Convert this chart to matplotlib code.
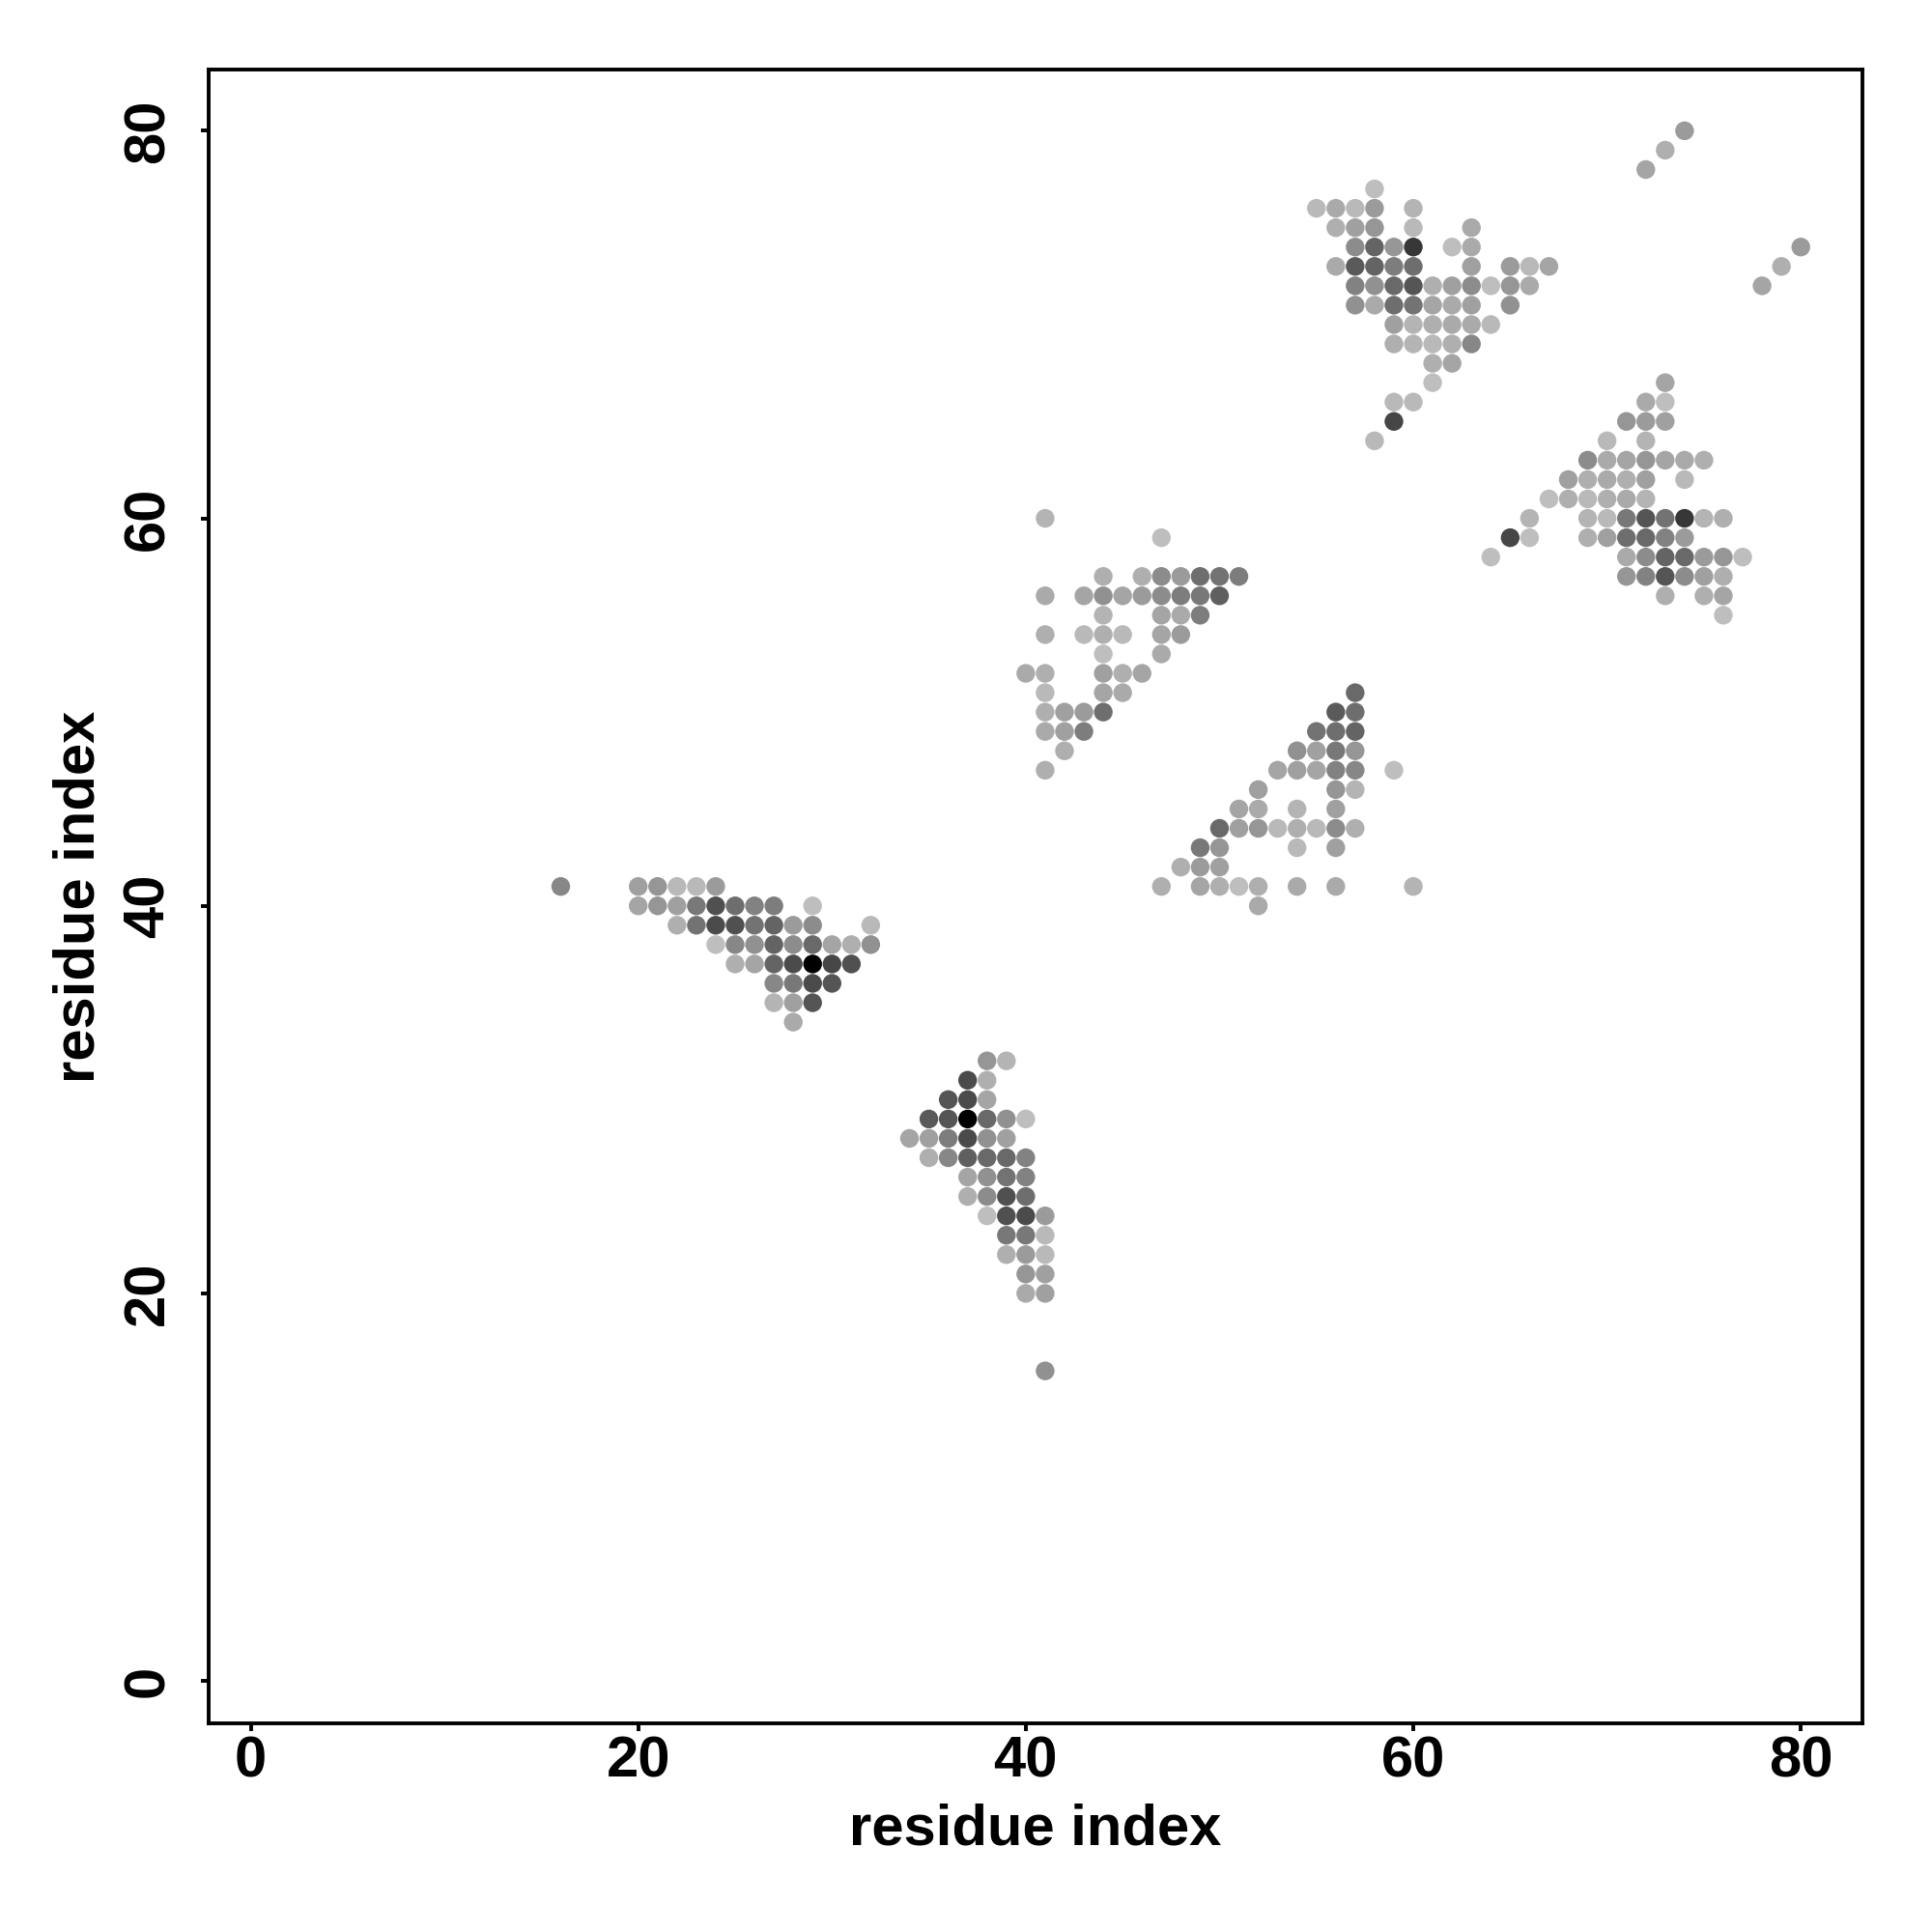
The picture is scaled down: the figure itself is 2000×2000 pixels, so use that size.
import matplotlib
matplotlib.use("Agg")
import matplotlib.pyplot as plt

plt.rcParams['font.family'] = ['Liberation Sans', 'DejaVu Sans']

# contacts: (x residue, y residue) and grey level, row by row
# top-right slivers and lone points
extra_x = [72, 73, 74, 78, 79, 80, 16, 41]
extra_y = [78, 79, 80, 72, 73, 74, 41, 16]
extra_g = [165, 175, 155, 165, 175, 155, 135, 145]

# block around (60, 72)
a_x = [58,
       55, 56, 57, 58, 60,
       56, 57, 58, 60, 63,
       57, 58, 59, 60, 62, 63,
       56, 57, 58, 59, 60, 63, 65, 66, 67,
       57, 58, 59, 60, 61, 62, 63, 64, 65, 66,
       57, 58, 59, 60, 61, 62, 63, 65,
       59, 60, 61, 62, 63, 64,
       59, 60, 61, 62, 63,
       61, 62,
       61,
       59, 60,
       59,
       58]
a_y = [77,
       76, 76, 76, 76, 76,
       75, 75, 75, 75, 75,
       74, 74, 74, 74, 74, 74,
       73, 73, 73, 73, 73, 73, 73, 73, 73,
       72, 72, 72, 72, 72, 72, 72, 72, 72, 72,
       71, 71, 71, 71, 71, 71, 71, 71,
       70, 70, 70, 70, 70, 70,
       69, 69, 69, 69, 69,
       68, 68,
       67,
       66, 66,
       65,
       64]
a_g = [190,
       185, 170, 185, 155, 180,
       175, 160, 150, 185, 170,
       140, 100, 150, 55, 190, 170,
       170, 90, 100, 125, 110, 160, 155, 185, 165,
       130, 145, 105, 85, 175, 160, 140, 190, 150, 170,
       145, 170, 110, 115, 165, 170, 160, 145,
       160, 180, 175, 170, 170, 185,
       175, 180, 185, 175, 135,
       175, 165,
       190,
       185, 185,
       70,
       185]

# block around (72, 60)
b_x = [73,
       72, 73,
       71, 72, 73,
       70, 72,
       69, 70, 71, 72, 73, 74, 75,
       68, 69, 70, 71, 72, 74,
       67, 68, 69, 70, 71, 72,
       66, 69, 70, 71, 72, 73, 74, 75, 76,
       65, 66, 69, 70, 71, 72, 73, 74,
       64, 71, 72, 73, 74, 75, 76, 77,
       71, 72, 73, 74, 75, 76,
       73, 75, 76,
       76]
b_y = [67,
       66, 66,
       65, 65, 65,
       64, 64,
       63, 63, 63, 63, 63, 63, 63,
       62, 62, 62, 62, 62, 62,
       61, 61, 61, 61, 61, 61,
       60, 60, 60, 60, 60, 60, 60, 60, 60,
       59, 59, 59, 59, 59, 59, 59, 59,
       58, 58, 58, 58, 58, 58, 58, 58,
       57, 57, 57, 57, 57, 57,
       56, 56, 56,
       55]
b_g = [165,
       170, 190,
       150, 155, 160,
       185, 180,
       140, 170, 165, 150, 165, 170, 175,
       160, 175, 170, 175, 160, 185,
       190, 175, 185, 175, 170, 180,
       180, 180, 185, 120, 85, 115, 55, 180, 175,
       70, 190, 175, 160, 110, 105, 130, 155,
       190, 170, 140, 100, 105, 155, 150, 190,
       150, 130, 85, 140, 160, 175,
       175, 175, 165,
       190]

# block around (47, 55)
c_x = [41,
       47,
       44, 46, 47, 48, 49, 50, 51,
       41, 43, 44, 45, 46, 47, 48, 49, 50,
       44, 47, 48, 49,
       41, 43, 44, 45, 47, 48,
       44, 47,
       40, 41, 44, 45, 46,
       41, 44, 45,
       41, 42, 43, 44,
       41, 42, 43,
       42,
       41]
c_y = [60,
       59,
       57, 57, 57, 57, 57, 57, 57,
       56, 56, 56, 56, 56, 56, 56, 56, 56,
       55, 55, 55, 55,
       54, 54, 54, 54, 54, 54,
       53, 53,
       52, 52, 52, 52, 52,
       51, 51, 51,
       50, 50, 50, 50,
       49, 49, 49,
       48,
       47]
c_g = [180,
       190,
       175, 175, 140, 155, 110, 115, 125,
       170, 165, 145, 165, 155, 140, 125, 120, 95,
       180, 165, 170, 125,
       175, 185, 175, 185, 165, 155,
       190, 170,
       170, 175, 160, 175, 165,
       185, 165, 170,
       175, 160, 155, 110,
       170, 160, 125,
       175,
       175]

# block around (55, 45)
d_x = [57,
       56, 57,
       55, 56, 57,
       54, 55, 56, 57,
       53, 54, 55, 56, 57, 59,
       52, 56, 57,
       51, 52, 54, 56,
       50, 51, 52, 53, 54, 55, 56, 57,
       49, 50, 54, 56,
       48, 49, 50,
       47, 49, 50, 51, 52, 54, 56, 60,
       52]
d_y = [51,
       50, 50,
       49, 49, 49,
       48, 48, 48, 48,
       47, 47, 47, 47, 47, 47,
       46, 46, 46,
       45, 45, 45, 45,
       44, 44, 44, 44, 44, 44, 44, 44,
       43, 43, 43, 43,
       42, 42, 42,
       41, 41, 41, 41, 41, 41, 41, 41,
       40]
d_g = [105,
       90, 110,
       115, 110, 100,
       145, 160, 120, 150,
       165, 160, 165, 130, 135, 190,
       160, 150, 180,
       165, 170, 180, 160,
       105, 160, 150, 185, 175, 185, 140, 175,
       120, 150, 185, 160,
       175, 155, 160,
       175, 165, 175, 190, 175, 170, 170, 180,
       170]

# block around (27, 38)
e_x = [20, 21, 22, 23, 24,
       20, 21, 22, 23, 24, 25, 26, 27, 29,
       22, 23, 24, 25, 26, 27, 28, 29, 32,
       24, 25, 26, 27, 28, 29, 30, 31, 32,
       25, 26, 27, 28, 29, 30, 31,
       27, 28, 29, 30,
       27, 28, 29,
       28]
e_y = [41, 41, 41, 41, 41,
       40, 40, 40, 40, 40, 40, 40, 40, 40,
       39, 39, 39, 39, 39, 39, 39, 39, 39,
       38, 38, 38, 38, 38, 38, 38, 38, 38,
       37, 37, 37, 37, 37, 37, 37,
       36, 36, 36, 36,
       35, 35, 35,
       34]
e_g = [160, 150, 185, 185, 155,
       165, 150, 160, 120, 80, 110, 130, 125, 190,
       175, 115, 75, 80, 115, 100, 155, 140, 185,
       190, 135, 145, 100, 140, 105, 165, 175, 145,
       175, 165, 100, 75, 0, 70, 80,
       135, 120, 75, 85,
       180, 160, 85,
       170]

# block around (38, 27)
f_x = [38, 39,
       37, 38,
       36, 37, 38,
       35, 36, 37, 38, 39, 40,
       34, 35, 36, 37, 38, 39,
       35, 36, 37, 38, 39, 40,
       37, 38, 39, 40,
       37, 38, 39, 40,
       38, 39, 40, 41,
       39, 40, 41,
       39, 40, 41,
       40, 41,
       40, 41]
f_y = [32, 32,
       31, 31,
       30, 30, 30,
       29, 29, 29, 29, 29, 29,
       28, 28, 28, 28, 28, 28,
       27, 27, 27, 27, 27, 27,
       26, 26, 26, 26,
       25, 25, 25, 25,
       24, 24, 24, 24,
       23, 23, 23,
       22, 22, 22,
       21, 21,
       20, 20]
f_g = [150, 180,
       75, 175,
       85, 75, 165,
       90, 85, 0, 105, 145, 190,
       165, 160, 125, 75, 145, 160,
       175, 135, 95, 105, 105, 130,
       165, 145, 115, 130,
       175, 140, 80, 110,
       190, 80, 75, 155,
       120, 120, 185,
       175, 155, 185,
       150, 160,
       170, 160]

ticks = [0, 20, 40, 60, 80]

fig = plt.figure(figsize=(20, 20), dpi=100)
ax = fig.add_axes([216 / 2000, 1 - 1784 / 2000, (1928 - 216) / 2000, (1784 - 72) / 2000])

for xs, ys, gs in [(extra_x, extra_y, extra_g), (a_x, a_y, a_g), (b_x, b_y, b_g),
                   (c_x, c_y, c_g), (d_x, d_y, d_g), (e_x, e_y, e_g), (f_x, f_y, f_g)]:
    ax.scatter(xs, ys, c=[str(g / 255) for g in gs], s=195, linewidths=0, clip_on=False)

ax.set_xlim(-2.17, 83.18)
ax.set_ylim(-2.19, 83.16)
ax.set_xticks(ticks)
ax.set_yticks(ticks)
ax.tick_params(axis='x', length=6, width=2.8, pad=3)
ax.tick_params(axis='y', length=6, width=2.8, pad=19)
for lab in ax.get_xticklabels():
    lab.set_fontsize(43)
    lab.set_fontweight('bold')
for lab in ax.get_yticklabels():
    lab.set_fontsize(43)
    lab.set_fontweight('bold')
    lab.set_rotation(90)
    lab.set_va('center')
for sp in ax.spines.values():
    sp.set_linewidth(2.8)
ax.set_xlabel('residue index', fontsize=43, fontweight='bold', labelpad=11)
ax.set_ylabel('residue index', fontsize=43, fontweight='bold', labelpad=12)

fig.savefig('out.png', dpi=100)
